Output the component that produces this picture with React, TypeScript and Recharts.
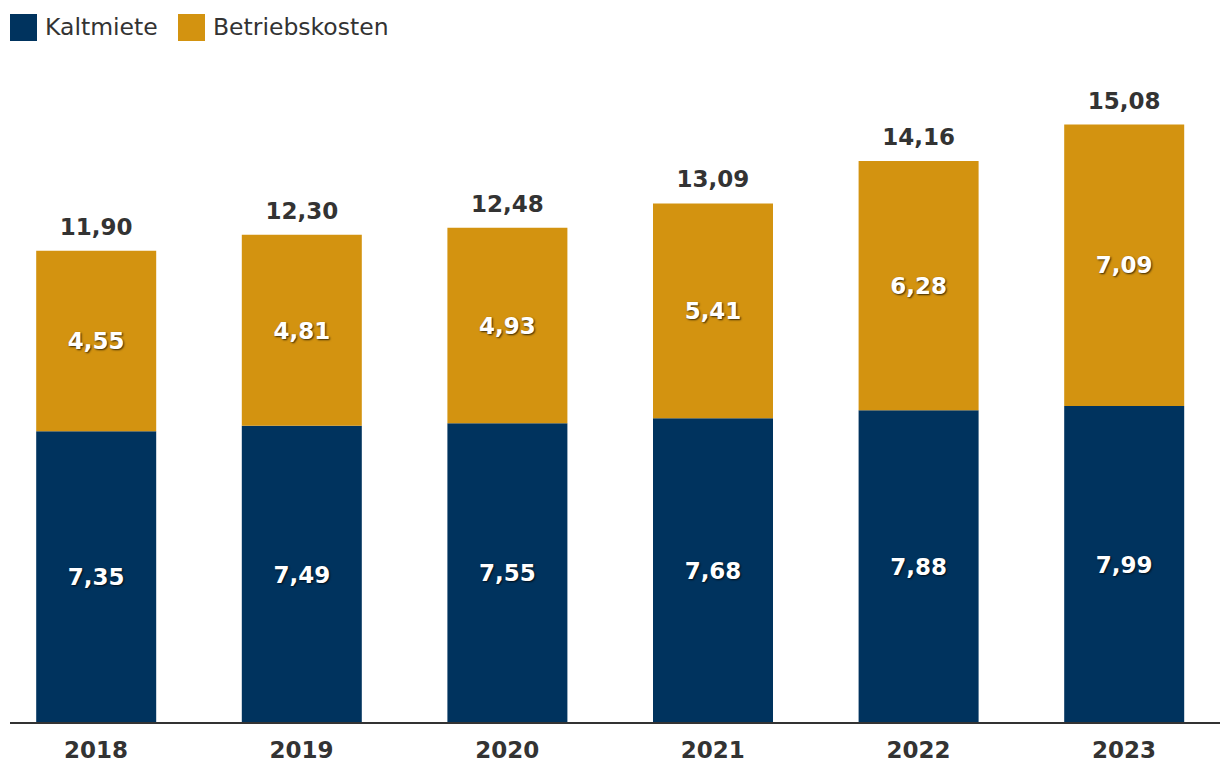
import React from 'react';
import { BarChart, Bar, XAxis, YAxis, LabelList } from 'recharts';

const years = ['2018', '2019', '2020', '2021', '2022', '2023'];
const kaltmiete = [7.35, 7.49, 7.55, 7.68, 7.88, 7.99];
const betriebskosten = [4.55, 4.81, 4.93, 5.41, 6.28, 7.09];
const totals = [11.9, 12.3, 12.48, 13.09, 14.16, 15.08];

const NAVY = '#00335e';
const GOLD = '#d39310';
const FONT = '"DejaVu Sans", Verdana, sans-serif';

const data = years.map((y, i) => ({
  year: y,
  kalt: kaltmiete[i],
  betr: betriebskosten[i],
  total: totals[i],
}));

const fmt = (v: number) => v.toFixed(2).replace('.', ',');

const InsideLabel = (props: any) => {
  const { x, y, width, height, value } = props;
  return (
    <text
      x={x + width / 2}
      y={y + height / 2}
      dy="0.36em"
      textAnchor="middle"
      fill="#ffffff"
      fontFamily={FONT}
      fontWeight="bold"
      fontSize={23}
      style={{ textShadow: '1px 1px 2px rgba(0,0,0,0.75)' }}
    >
      {fmt(Number(value))}
    </text>
  );
};

const TotalLabel = (props: any) => {
  const { x, y, width, value } = props;
  return (
    <text
      x={x + width / 2}
      y={y - 16}
      textAnchor="middle"
      fill="#333333"
      fontFamily={FONT}
      fontWeight="bold"
      fontSize={23}
    >
      {fmt(Number(value))}
    </text>
  );
};

const YearTick = (props: any) => {
  const { x, payload } = props;
  return (
    <text
      x={x}
      y={758}
      textAnchor="middle"
      fill="#333333"
      fontFamily={FONT}
      fontWeight="bold"
      fontSize={23}
    >
      {payload.value}
    </text>
  );
};

export default function App() {
  return (
    <div style={{ position: 'absolute', left: 0, top: 0, width: 1220, height: 784, background: '#fff' }}>
      <svg width={420} height={50} style={{ position: 'absolute', left: 0, top: 0 }}>
        <rect x={10} y={14} width={27} height={27} fill={NAVY} />
        <text x={45} y={35} fill="#333333" fontFamily={FONT} fontSize={23.5}>Kaltmiete</text>
        <rect x={178} y={14} width={27} height={27} fill={GOLD} />
        <text x={213} y={35} fill="#333333" fontFamily={FONT} fontSize={23.5}>Betriebskosten</text>
      </svg>
      <BarChart
        width={1220}
        height={784}
        data={data}
        margin={{ top: 88, right: 0, bottom: 11, left: 10 }}
        barSize={120}
      >
        <XAxis
          dataKey="year"
          height={50}
          tickSize={0}
          tickLine={false}
          axisLine={{ stroke: '#333333', strokeWidth: 2 }}
          padding={{ left: -16.8, right: -6.8 }}
          tick={<YearTick />}
          interval={0}
        />
        <YAxis hide domain={[0, 16]} />
        <Bar dataKey="kalt" stackId="a" fill={NAVY} isAnimationActive={false}>
          <LabelList dataKey="kalt" content={<InsideLabel />} />
        </Bar>
        <Bar dataKey="betr" stackId="a" fill={GOLD} isAnimationActive={false}>
          <LabelList dataKey="betr" content={<InsideLabel />} />
          <LabelList dataKey="total" content={<TotalLabel />} />
        </Bar>
      </BarChart>
    </div>
  );
}
